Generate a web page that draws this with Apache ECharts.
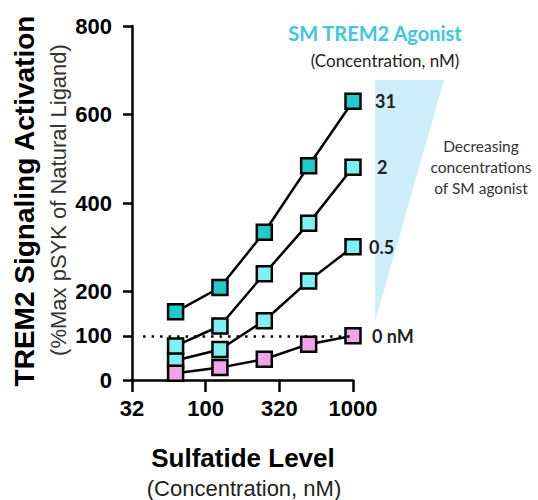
<!DOCTYPE html>
<html>
<head>
<meta charset="utf-8">
<script src="https://cdn.jsdelivr.net/npm/echarts@6/dist/echarts.min.js"></script>
<style>html,body{margin:0;padding:0;background:#fff}#c{width:538px;height:500px}</style>
</head>
<body>
<div id="c"></div>
<script>
// Data
const sulfatide = [62.5, 125, 250, 500, 1000];
const agonist31 = [154, 209, 334, 484, 630];
const agonist2 = [77, 122, 240, 354, 481];
const agonist05 = [44, 69, 134, 224, 301];
const agonist0 = [15, 28, 47, 81, 100];
const seriesLabels = ['31', '2', '0.5', '0 nM'];
const xTickValues = [31.6228, 100, 316.228, 1000];
const xTickLabels = ['32', '100', '320', '1000'];
const yTickValues = [0, 100, 200, 400, 600, 800];
const refLevel = 100;
const refStart = 37.6;

const pairs = ys => sulfatide.map((x, i) => [x, ys[i]]);
const AX = 'Liberation Sans, Arial, sans-serif';
const CAL = 'Lato, Carlito, sans-serif';

function mkSeries(name, ys, fill, lbl, dist, extra) {
  return Object.assign({
    name: name, type: 'line', data: pairs(ys),
    symbol: 'rect', symbolSize: 15,
    itemStyle: { color: fill, borderColor: '#000', borderWidth: 2.5 },
    lineStyle: { color: '#000', width: 2.5 },
    endLabel: { show: true, formatter: lbl, fontFamily: CAL, fontWeight: 'bold', fontSize: 18, color: '#222', distance: dist },
    emphasis: { disabled: true }
  }, extra || {});
}

const chart = echarts.init(document.getElementById('c'), null, { renderer: 'svg' });
chart.setOption({
  animation: false,
  grid: { left: 132, right: 185, top: 26, bottom: 120, containLabel: false },
  xAxis: {
    type: 'log', logBase: Math.sqrt(10), min: Math.pow(10, 1.5), max: 1000, splitNumber: 3,
    axisLine: { show: true, lineStyle: { color: '#000', width: 2.5 } },
    axisTick: { show: true, length: 12, lineStyle: { color: '#000', width: 2.5 } },
    minorTick: { show: false },
    splitLine: { show: false },
    axisLabel: {
      margin: 17, fontFamily: AX, fontWeight: 'bold', fontSize: 22, color: '#000',
      formatter: function (v) {
        const l = Math.log10(v);
        for (let i = 0; i < xTickValues.length; i++) {
          if (Math.abs(Math.log10(xTickValues[i]) - l) < 0.05) return xTickLabels[i];
        }
        return '';
      }
    }
  },
  yAxis: {
    type: 'value', min: 0, max: 800,
    axisLine: { show: true, lineStyle: { color: '#000', width: 2.5 } },
    axisTick: { show: true, length: 9, lineStyle: { color: '#000', width: 2.5 }, customValues: yTickValues },
    splitLine: { show: false },
    axisLabel: { margin: 20, fontFamily: AX, fontWeight: 'bold', fontSize: 22, color: '#000', customValues: yTickValues }
  },
  series: [
    mkSeries('0.5', agonist05, '#7ff0f2', seriesLabels[2], 16, {
      markLine: {
        silent: true, symbol: 'none', label: { show: false },
        lineStyle: { color: '#000', width: 2.5, type: [2.5, 6] },
        data: [[{ coord: [refStart, refLevel] }, { coord: [1000, refLevel] }]]
      }
    }),
    mkSeries('2', agonist2, '#7ff0f2', seriesLabels[1], 24),
    mkSeries('31', agonist31, '#1fcbcb', seriesLabels[0], 22),
    mkSeries('0', agonist0, '#f2a3ea', seriesLabels[3], 19)
  ],
  graphic: [
    { type: 'polygon', z: -1, shape: { points: [[375, 80], [444, 80], [375, 322]] },
      style: { fill: '#cdeefa' } },
    { type: 'text', x: 375, y: 33, style: { text: 'SM TREM2 Agonist', font: 'bold 20px ' + CAL, fill: '#40c6e0', textAlign: 'center', textVerticalAlign: 'middle' } },
    { type: 'text', x: 385, y: 60, style: { text: '(Concentration, nM)', font: '17px ' + CAL, fill: '#222', textAlign: 'center', textVerticalAlign: 'middle' } },
    { type: 'text', x: 481, y: 167, style: { text: 'Decreasing\nconcentrations\nof SM agonist', font: '15.5px ' + CAL, fill: '#333', textAlign: 'center', textVerticalAlign: 'middle', lineHeight: 21 } },
    { type: 'text', x: 24, y: 201, rotation: Math.PI / 2, style: { text: 'TREM2 Signaling Activation', font: 'bold 28px ' + AX, fill: '#000', textAlign: 'center', textVerticalAlign: 'middle' } },
    { type: 'text', x: 58, y: 200, rotation: Math.PI / 2, style: { text: '(%Max pSYK of Natural Ligand)', font: '22px ' + AX, fill: '#333', textAlign: 'center', textVerticalAlign: 'middle' } },
    { type: 'text', x: 243, y: 458, style: { text: 'Sulfatide Level', font: 'bold 26px ' + AX, fill: '#000', textAlign: 'center', textVerticalAlign: 'middle' } },
    { type: 'text', x: 244, y: 488, style: { text: '(Concentration, nM)', font: '22px ' + AX, fill: '#222', textAlign: 'center', textVerticalAlign: 'middle' } }
  ]
});
</script>
</body>
</html>
